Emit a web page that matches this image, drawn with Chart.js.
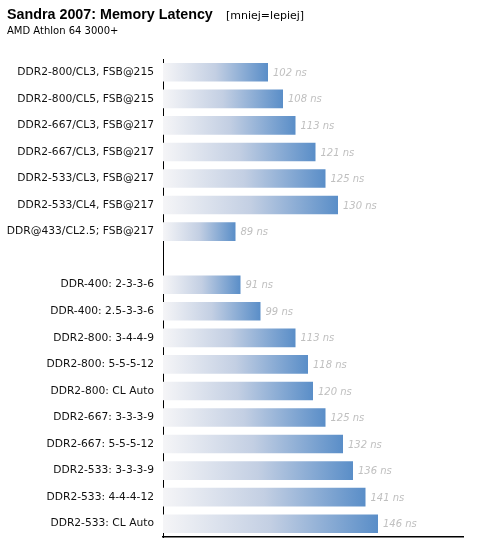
<!DOCTYPE html>
<html>
<head>
<meta charset="utf-8">
<script src="https://cdn.jsdelivr.net/npm/chart.js@4"></script>
<style>
  body { margin: 0; background: #fff; }
  #wrap { position: relative; width: 477px; height: 558px; }
  #title { position: absolute; left: 7px; top: 6px; font: bold 14.3px 'Liberation Sans', Arial, sans-serif; color: #000; }
  #note { position: absolute; left: 226px; top: 9px; font: 11px 'DejaVu Sans', sans-serif; color: #000; }
  #sub { position: absolute; left: 7px; top: 25px; font: 10px 'DejaVu Sans', sans-serif; color: #000; }
  canvas { position: absolute; left: 0; top: 0; }
</style>
</head>
<body>
<div id="wrap">
  <canvas id="latencyChart" width="477" height="558"></canvas>
  <div id="title">Sandra 2007: Memory Latency</div>
  <div id="note">[mniej=lepiej]</div>
  <div id="sub">AMD Athlon 64 3000+</div>
</div>
<script>
// configurations, '' = empty row between the two groups
const labels = [
	'DDR2-800/CL3, FSB@215',
	'DDR2-800/CL5, FSB@215',
	'DDR2-667/CL3, FSB@217',
	'DDR2-667/CL3, FSB@217',
	'DDR2-533/CL3, FSB@217',
	'DDR2-533/CL4, FSB@217',
	'DDR@433/CL2.5; FSB@217',
	'',
	'DDR-400: 2-3-3-6',
	'DDR-400: 2.5-3-3-6',
	'DDR2-800: 3-4-4-9',
	'DDR2-800: 5-5-5-12',
	'DDR2-800: CL Auto',
	'DDR2-667: 3-3-3-9',
	'DDR2-667: 5-5-5-12',
	'DDR2-533: 3-3-3-9',
	'DDR2-533: 4-4-4-12',
	'DDR2-533: CL Auto',
];

// latency in ns
const latency = [102, 108, 113, 121, 125, 130, 89, null, 91, 99, 113, 118, 120, 125, 132, 136, 141, 146];

const axisMin = 60;
const axisMax = 180;

const barGradient = (ctx) => {
	const chart = ctx.chart;
	const { chartArea } = chart;
	if (!chartArea || ctx.raw == null) return '#5a8ec8';
	const x = chart.scales.x;
	const x0 = x.getPixelForValue(axisMin);
	const x1 = x.getPixelForValue(ctx.raw);
	const g = chart.ctx.createLinearGradient(x0, 0, x1, 0);
	g.addColorStop(0, '#f5f5f7');
	g.addColorStop(0.5, '#c3cfe3');
	g.addColorStop(1, '#5a8ec8');
	return g;
};

const valueLabels = {
	id: 'valueLabels',
	afterDatasetsDraw(chart) {
		const ctx = chart.ctx;
		const meta = chart.getDatasetMeta(0);
		ctx.save();
		ctx.font = 'italic 10px "DejaVu Sans", sans-serif';
		ctx.fillStyle = '#c0c0c0';
		ctx.textBaseline = 'middle';
		meta.data.forEach((bar, i) => {
			if (latency[i] == null) return;
			ctx.fillText(latency[i] + ' ns', bar.x + 5, bar.y + 1);
		});
		ctx.restore();
	},
};

new Chart(document.querySelector('#latencyChart'), {
	type: 'bar',
	data: {
		labels: labels,
		datasets: [
			{
				data: latency,
				backgroundColor: barGradient,
				borderWidth: 0,
				categoryPercentage: 1,
				barPercentage: 0.7,
			},
		],
	},
	options: {
		indexAxis: 'y',
		responsive: false,
		animation: false,
		layout: { padding: { top: 59, right: 14, bottom: 21, left: 0 } },
		plugins: { legend: { display: false }, tooltip: { enabled: false } },
		scales: {
			x: {
				min: axisMin,
				max: axisMax,
				grid: { display: false, drawTicks: false },
				border: { color: '#000', width: 1.5 },
				ticks: { display: false },
				afterFit: (scale) => { scale.height = 0; },
			},
			y: {
				grid: { display: false, drawTicks: false },
				border: { color: '#000', width: 1 },
				ticks: {
					color: '#111',
					font: { family: 'DejaVu Sans', size: 10.7 },
					padding: 9,
					autoSkip: false,
				},
				afterFit: (scale) => { scale.width = 163; },
			},
		},
	},
	plugins: [valueLabels],
});
</script>
</body>
</html>
